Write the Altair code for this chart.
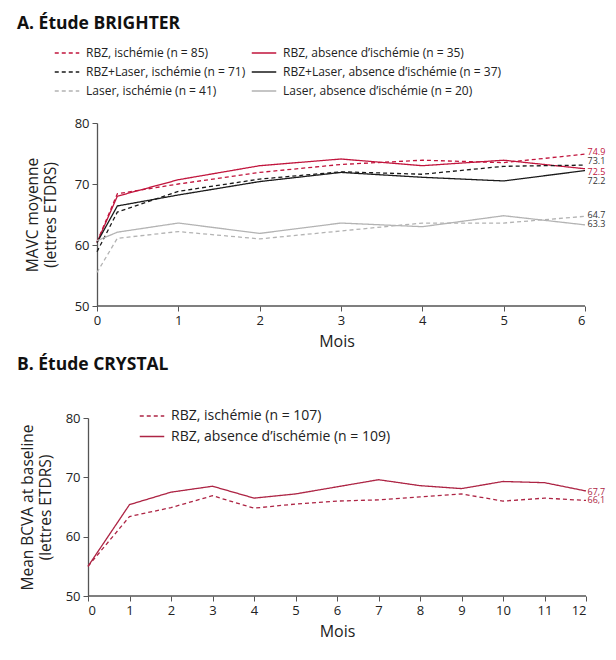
import altair as alt
import pandas as pd

FONT = "Open Sans"

# ---------------- Panel A data (BRIGHTER) ----------------
months_a = [0, 0.25, 1, 2, 3, 4, 5, 6]
series_a = [
    "RBZ, ischémie (n = 85)",
    "RBZ, absence d’ischémie (n = 35)",
    "RBZ+Laser, ischémie (n = 71)",
    "RBZ+Laser, absence d’ischémie (n = 37)",
    "Laser, ischémie (n = 41)",
    "Laser, absence d’ischémie (n = 20)",
]
rbz_isch = [60.5, 68.4, 70.0, 71.9, 73.2, 73.9, 73.5, 74.9]
rbz_abs = [60.4, 68.0, 70.7, 73.0, 74.1, 73.0, 73.9, 72.5]
rbzl_isch = [58.9, 65.4, 68.8, 70.8, 72.0, 71.6, 72.9, 73.1]
rbzl_abs = [60.4, 66.4, 68.2, 70.4, 71.9, 71.1, 70.5, 72.2]
laser_isch = [55.5, 61.1, 62.2, 61.0, 62.3, 63.6, 63.6, 64.7]
laser_abs = [60.7, 62.1, 63.6, 61.9, 63.6, 63.0, 64.8, 63.3]
values_a = [rbz_isch, rbz_abs, rbzl_isch, rbzl_abs, laser_isch, laser_abs]
colors_a = ["#c1153d", "#c1153d", "#1a1a1a", "#1a1a1a", "#b3b3b3", "#b3b3b3"]
dashes_a = [[4, 3], [1, 0], [4, 3], [1, 0], [4, 3], [1, 0]]

end_labels_a = ["74.9", "73.1", "72.5", "72.2", "64.7", "63.3"]
end_label_pos_a = [75.3, 73.7, 72.0, 70.5, 64.9, 63.4]
end_label_colors_a = ["#c1153d", "#333333", "#c1153d", "#333333", "#333333", "#333333"]

# ---------------- Panel B data (CRYSTAL) ----------------
months_b = list(range(0, 13))
series_b = ["RBZ, ischémie (n = 107)", "RBZ, absence d’ischémie (n = 109)"]
rbz_isch_b = [55.0, 63.4, 64.9, 66.9, 64.8, 65.5, 66.0, 66.2, 66.7, 67.2, 66.0, 66.5, 66.1]
rbz_abs_b = [55.0, 65.4, 67.5, 68.5, 66.5, 67.2, 68.4, 69.6, 68.6, 68.1, 69.3, 69.1, 67.7]
values_b = [rbz_isch_b, rbz_abs_b]
colors_b = ["#ad2444", "#ad2444"]
dashes_b = [[4, 3], [1, 0]]

end_labels_b = ["67,7", "66,1"]
end_label_pos_b = [67.6, 66.1]
end_label_colors_b = ["#ad2444", "#ad2444"]

# ---------------- build tables ----------------
df_a = pd.DataFrame(
    [{"mois": m, "val": v, "serie": s} for s, vals in zip(series_a, values_a) for m, v in zip(months_a, vals)]
)
lab_a = pd.DataFrame({"mois": [months_a[-1]] * 6, "pos": end_label_pos_a, "txt": end_labels_a, "col": end_label_colors_a})
base_a = pd.DataFrame({"x0": [months_a[0]], "x1": [months_a[-1]], "y0": [50]})
df_b = pd.DataFrame(
    [{"mois": m, "val": v, "serie": s} for s, vals in zip(series_b, values_b) for m, v in zip(months_b, vals)]
)
lab_b = pd.DataFrame({"mois": [months_b[-1]] * 2, "pos": end_label_pos_b, "txt": end_labels_b, "col": end_label_colors_b})
base_b = pd.DataFrame({"x0": [months_b[0]], "x1": [months_b[-1]], "y0": [50]})


def legend(x, y, cols, colpad, rowpad, fs):
    return alt.Legend(
        orient="none", legendX=x, legendY=y, columns=cols, direction="horizontal", title=None,
        symbolType="stroke", symbolSize=600, symbolStrokeWidth=1.3,
        labelFont=FONT, labelFontSize=fs, labelColor="#222222",
        labelOffset=6, rowPadding=rowpad, columnPadding=colpad, labelLimit=400,
    )


def panel(df, lab, base, series, colors, dashes, xmin, xmax, yoff, ytitle, ytpad,
          title, w, h, leg, toff, ldx):
    x = alt.X("mois:Q", scale=alt.Scale(domain=[xmin, xmax], nice=False, zero=False),
              axis=alt.Axis(values=list(range(0, xmax + 1)), title="Mois", format="d", domain=False))
    y = alt.Y("val:Q", scale=alt.Scale(domain=[50, 80], nice=False),
              axis=alt.Axis(values=[50, 55, 60, 65, 70, 75, 80], title=ytitle,
                            titlePadding=ytpad, offset=yoff))
    axis_line = alt.Chart(base).mark_rule(color="#555555", strokeWidth=1.3).encode(
        x=alt.X("x0:Q"), x2="x1:Q", y=alt.Y("y0:Q")
    )
    lines = alt.Chart(df).mark_line(strokeWidth=1.3).encode(
        x=x, y=y,
        color=alt.Color("serie:N", scale=alt.Scale(domain=series, range=colors), legend=leg),
        strokeDash=alt.StrokeDash("serie:N", scale=alt.Scale(domain=series, range=dashes), legend=leg),
    )
    labels = alt.Chart(lab).mark_text(align="left", baseline="middle", dx=ldx, fontSize=9, font=FONT).encode(
        x="mois:Q", y="pos:Q", text="txt:N", fill=alt.Fill("col:N", scale=None)
    )
    return alt.layer(lines, axis_line, labels).properties(
        width=w, height=h,
        title=alt.TitleParams(title, anchor="start", frame="group", dx=-71, fontSize=17.5,
                              fontWeight="bold", font=FONT, color="#111111", offset=toff),
    )


pa = panel(df_a, lab_a, base_a, series_a, colors_a, dashes_a, -0.1107, 6, -9,
           ["MAVC moyenne", "(lettres ETDRS)"], 16,
           "A. Étude BRIGHTER", 497, 183, legend(-34, -83, 2, 3, -6, 12), 8, 2.5)
pb = panel(df_b, lab_b, base_b, series_b, colors_b, dashes_b, 0, 12, 0,
           ["Mean BCVA at baseline", "(lettres ETDRS)"], 12,
           "B. Étude CRYSTAL", 498, 178, legend(51, -15, 1, 10, 0.5, 14), 29.5, 1.5)

chart = alt.vconcat(pa, pb, spacing=6).resolve_scale(
    color="independent", strokeDash="independent", x="independent", y="independent"
).resolve_legend(color="independent", strokeDash="independent").configure(
    background="white", padding={"left": 9, "top": 6, "right": 0, "bottom": 0}
).configure_view(stroke=None).configure_axis(
    grid=False, labelFont=FONT, labelFontSize=13, labelColor="#222222", titleFont=FONT,
    titleFontSize=15.5, titleFontWeight="normal", titleColor="#222222", tickSize=5,
    domainColor="#555555", tickColor="#555555", domainWidth=1.3, labelPadding=3,
).configure_axisY(titleLineHeight=18).configure_axisX(titleFontSize=16, titlePadding=6.5)

chart.save("out.html", embed_options={"renderer": "svg", "actions": False})
